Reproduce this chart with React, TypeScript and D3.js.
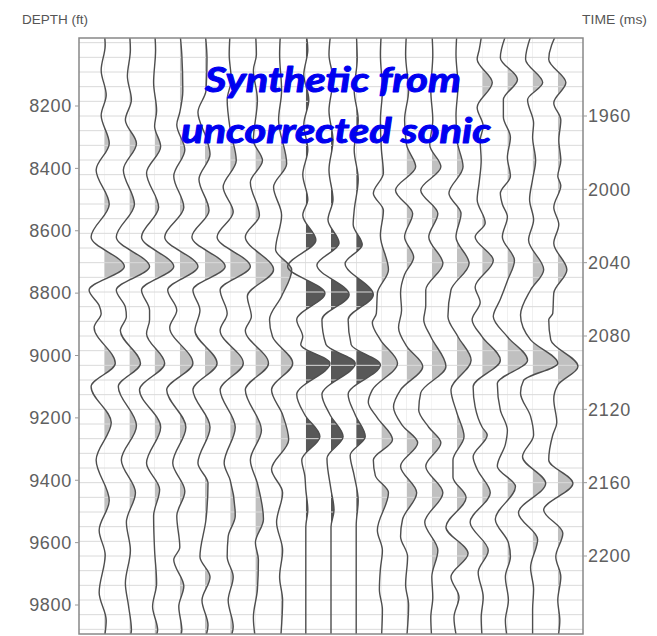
import React from "react";
import * as d3 from "d3";

// synthetic seismogram, wiggle traces with variable-area fill
// each trace: picked turning points [depth (ft), amplitude]

const depthTicks = [8200, 8400, 8600, 8800, 9000, 9200, 9400, 9600, 9800];
const timeTicks = [1960, 2000, 2040, 2080, 2120, 2160, 2200];

const trace00 = [[7960,0],[8005,1],[8085,-3],[8165,2],[8230,-3],[8320,5],[8405,-8],[8515,5],[8620,-13],[8715,20],[8790,-15],[8840,-5],[8865,-3],[8910,-10],[9025,11],[9100,-13],[9215,7],[9335,-8],[9465,5],[9560,-5],[9640,1],[9760,-5],[9850,2],[9910,0]];
const trace01 = [[7960,0],[8020,1],[8105,-2],[8180,2],[8245,-4],[8320,7],[8405,-6],[8515,5],[8620,-13],[8715,20],[8790,-13],[8845,-4],[8875,-3],[8920,-9],[9025,11],[9100,-11],[9225,7],[9335,-8],[9440,6],[9535,-3],[9625,1],[9730,-4],[9800,-1],[9880,2],[9910,0]];
const trace02 = [[7960,0],[8020,1],[8125,-1],[8215,2],[8265,0],[8330,6],[8415,-8],[8525,4],[8620,-13],[8715,19],[8790,-13],[8855,-5],[8885,-5],[8930,-8],[9025,10],[9110,-15],[9230,6],[9345,-8],[9430,5],[9515,-1],[9625,0],[9730,2],[9805,-2],[9880,3],[9910,0]];
const trace03 = [[7960,0],[8035,2],[8150,3],[8220,0],[8260,-3],[8340,5],[8425,-6],[8525,4],[8620,-15],[8715,18],[8790,-12],[8855,-3],[8910,-10],[9025,13],[9110,-13],[9230,6],[9345,-7],[9435,5],[9515,-3],[9615,0],[9655,-6],[9740,4],[9805,-1],[9880,2],[9910,0]];
const trace04 = [[7960,0],[8050,2],[8150,1],[8220,-7],[8310,2],[8355,5],[8435,-6],[8535,4],[8620,-13],[8715,20],[8790,-12],[8855,-5],[8920,-10],[9025,12],[9110,-12],[9230,5],[9345,-7],[9410,3],[9525,1],[9645,-5],[9710,5],[9785,-3],[9865,3],[9910,0]];
const trace05 = [[7960,0],[8035,-1],[8115,1],[8180,-3],[8275,0],[8375,6],[8460,-7],[8540,3],[8620,-13],[8715,20],[8790,-10],[8865,-3],[8920,-10],[9025,13],[9110,-10],[9230,5],[9345,-6],[9400,0],[9515,5],[9580,-2],[9645,-3],[9710,3],[9785,-2],[9870,3],[9910,0]];
const trace06 = [[7960,0],[8035,1],[8085,-2],[8180,2],[8310,-2],[8375,7],[8445,-5],[8550,4],[8620,-10],[8725,18],[8810,-8],[8875,-4],[8920,-10],[9025,13],[9110,-10],[9240,6],[9335,-5],[9410,2],[9525,8],[9600,0],[9655,3],[9750,2],[9840,-2],[9910,0]];
const trace07 = [[7960,0],[8035,-1],[8150,1],[8245,-2],[8385,6],[8460,-7],[8550,1],[8660,-5],[8725,11],[8810,1],[8885,-11],[8940,-8],[9025,12],[9110,-9],[9190,2],[9270,8],[9365,-9],[9440,2],[9535,-4],[9625,2],[9710,-1],[9785,2],[9910,0]];
const trace08 = [[7960,0],[8020,2],[8100,-2],[8180,3],[8260,-2],[8340,2],[8420,-3],[8500,2],[8550,-3],[8630,10],[8715,-18],[8800,19],[8885,-9],[8940,-3],[8965,-5],[9025,24],[9125,-9],[9190,-1],[9260,14],[9335,-4],[9385,-1],[9430,0],[9495,2],[9550,0],[9910,0]];
const trace09 = [[7960,0],[8035,-2],[8115,2],[8215,-2],[8310,2],[8405,-2],[8500,2],[8565,-3],[8640,8],[8710,-14],[8805,18],[8885,-9],[8965,-5],[9025,24],[9125,-9],[9190,-1],[9260,12],[9330,-4],[9430,0],[9495,3],[9550,0],[9910,0]];
const trace10 = [[7960,0],[8050,1],[8150,-2],[8245,2],[8340,-2],[8435,2],[8535,-2],[8580,-3],[8645,6],[8705,-11],[8805,17],[8885,-8],[8965,-5],[9030,24],[9125,-8],[9190,-1],[9260,9],[9320,-6],[9385,-2],[9465,2],[9545,0],[9910,0]];
const trace11 = [[7960,0],[8035,-1],[8150,1],[8245,-1],[8340,0],[8415,2],[8480,-8],[8535,2],[8615,-1],[8725,7],[8800,-4],[8865,-5],[8895,-9],[8950,-1],[9025,16],[9110,-9],[9150,-13],[9200,-4],[9270,11],[9335,-8],[9385,-6],[9440,7],[9560,-4],[9625,1],[9685,-1],[9750,-2],[9815,1],[9910,0]];
const trace12 = [[7960,0],[8035,-1],[8150,2],[8245,-2],[8325,0],[8395,9],[8470,-11],[8545,6],[8620,-2],[8685,7],[8740,-2],[8800,-6],[8855,-5],[8910,-8],[8970,0],[9035,16],[9110,-6],[9165,-13],[9225,-4],[9280,11],[9355,-6],[9440,10],[9525,-4],[9580,-6],[9645,1],[9735,-1],[9800,2],[9910,0]];
const trace13 = [[7960,0],[8035,1],[8150,-1],[8245,1],[8325,-2],[8395,9],[8470,-11],[8545,6],[8620,-3],[8705,11],[8790,-6],[8840,-6],[8885,-8],[8940,-1],[9035,14],[9120,-11],[9175,-13],[9230,-3],[9280,9],[9355,-6],[9440,11],[9535,-7],[9625,6],[9710,0],[9775,1],[9840,-1],[9910,0]];
const trace14 = [[7960,0],[8035,-1],[8135,1],[8230,-1],[8310,0],[8395,6],[8480,-8],[8545,4],[8620,-1],[8705,12],[8790,-6],[8875,-9],[8940,1],[9015,14],[9110,-6],[9185,0],[9260,7],[9335,-4],[9390,-4],[9455,9],[9550,-11],[9635,11],[9710,-6],[9775,2],[9840,-3],[9910,0]];
const trace15 = [[7960,0],[8020,-3],[8050,-5],[8125,10],[8205,-5],[8265,1],[8310,-2],[8375,-1],[8445,-3],[8500,-5],[8575,3],[8620,-7],[8695,11],[8780,-7],[8830,-2],[8885,-10],[8940,0],[9015,18],[9100,-9],[9165,-7],[9230,0],[9255,5],[9325,-9],[9365,-5],[9440,8],[9535,-12],[9625,6],[9695,-4],[9775,1],[9840,-1],[9910,0]];
const trace16 = [[7960,0],[8045,-7],[8115,10],[8180,-4],[8235,-4],[8300,3],[8365,0],[8425,3],[8480,-7],[8515,-5],[8555,0],[8620,-5],[8695,7],[8760,0],[8820,-7],[8875,-14],[8940,0],[9015,20],[9090,-10],[9175,-7],[9240,0],[9285,-2],[9355,-10],[9420,8],[9525,-12],[9600,1],[9645,3],[9710,-2],[9785,1],[9850,-2],[9910,0]];
const trace17 = [[7960,0],[8050,-7],[8125,10],[8180,-5],[8255,1],[8300,0],[8375,3],[8435,0],[8500,-3],[8565,1],[8630,-4],[8725,11],[8790,-2],[8870,-12],[8950,-2],[9025,25],[9080,-9],[9120,-12],[9195,-2],[9255,1],[9325,-10],[9410,13],[9505,-14],[9590,5],[9680,-2],[9750,1],[9815,0],[9910,0]];
const trace18 = [[7960,0],[8050,-9],[8125,8],[8190,-4],[8245,3],[8310,1],[8375,3],[8425,0],[8455,3],[8525,-4],[8580,1],[8640,-4],[8725,9],[8800,-4],[8865,-5],[8885,-9],[8950,-7],[9035,20],[9095,0],[9140,-4],[9215,-1],[9255,-5],[9335,-9],[9410,15],[9495,-14],[9570,5],[9645,-2],[9710,3],[9785,0],[9850,2],[9910,0]];

const traces = [trace00, trace01, trace02, trace03, trace04, trace05, trace06, trace07, trace08, trace09,
  trace10, trace11, trace12, trace13, trace14, trace15, trace16, trace17, trace18];
const darkTraces = [8, 9, 10];

const W = 657;
const H = 636;
const frame = { left: 79, right: 583, top: 38, bottom: 634 };

const y = d3.scaleLinear().domain([8200, 9800]).range([106, 605]);
const yTime = d3.scaleLinear().domain([1960, 2200]).range([116, 556]);
const x = d3.scalePoint<number>()
  .domain(d3.range(traces.length))
  .range([frame.left, frame.right])
  .padding(1);
const amp = d3.scaleLinear().domain([0, 25]).range([0, x.step()]);

// grid every 8 ms
const gridTimes = d3.range(1920, 2248, 8);

const App = () => {
  const paths = traces.map((tr, i) => {
    const base = x(i) as number;
    const line = d3.line<number[]>()
      .curve(d3.curveMonotoneY)
      .x(d => base + amp(d[1]))
      .y(d => y(d[0]));
    const area = d3.area<number[]>()
      .curve(d3.curveMonotoneY)
      .y(d => y(d[0]))
      .x0(base)
      .x1(d => base + amp(d[1]));
    return { base, line: line(tr) || "", area: area(tr) || "" };
  });

  return (
    <svg width={W} height={H} style={{ position: "absolute", left: 0, top: 0, background: "#fff" }}>
      <defs>
        <clipPath id="frameClip">
          <rect x={frame.left} y={frame.top} width={frame.right - frame.left} height={frame.bottom - frame.top} />
        </clipPath>
        {paths.map((p, i) => (
          <clipPath id={`pos${i}`} key={i}>
            <rect x={p.base} y={frame.top} width={x.step() * 1.2} height={frame.bottom - frame.top} />
          </clipPath>
        ))}
      </defs>

      <g clipPath="url(#frameClip)">
        {paths.map((p, i) => (
          <path key={`f${i}`} d={p.area} clipPath={`url(#pos${i})`}
            fill={darkTraces.includes(i) ? "#585858" : "#c0c0c0"} stroke="none" />
        ))}
        {gridTimes.map(t => (
          <line key={t} x1={frame.left} x2={frame.right} y1={yTime(t)} y2={yTime(t)}
            stroke="#dadada" strokeWidth={1} />
        ))}
        {paths.map((p, i) => (
          <path key={`l${i}`} d={p.line} fill="none" stroke="#4e4e4e" strokeWidth={1.4} />
        ))}
      </g>

      <rect x={frame.left} y={frame.top} width={frame.right - frame.left} height={frame.bottom - frame.top}
        fill="none" stroke="#888" strokeWidth={1.5} />

      {/* depth axis */}
      <text x={22} y={24} fontFamily="Liberation Sans, Arial, sans-serif" fontSize={12.5} fill="#555"
        textLength={66} lengthAdjust="spacingAndGlyphs">DEPTH (ft)</text>
      {depthTicks.map(d => (
        <g key={d}>
          <line x1={frame.left - 4} x2={frame.left} y1={y(d)} y2={y(d)} stroke="#999" />
          <text x={72} y={y(d)} dy="0.35em" textAnchor="end" fontFamily="Liberation Sans, Arial, sans-serif"
            fontSize={18} letterSpacing={0.7} fill="#606060">{d}</text>
        </g>
      ))}

      {/* time axis */}
      <text x={582} y={24} fontFamily="Liberation Sans, Arial, sans-serif" fontSize={12.5} fill="#555"
        textLength={65} lengthAdjust="spacingAndGlyphs">TIME (ms)</text>
      {timeTicks.map(t => (
        <g key={t}>
          <line x1={frame.right} x2={frame.right + 4} y1={yTime(t)} y2={yTime(t)} stroke="#999" />
          <text x={588} y={yTime(t)} dy="0.35em" fontFamily="Liberation Sans, Arial, sans-serif"
            fontSize={18} letterSpacing={0.7} fill="#606060">{t}</text>
        </g>
      ))}

      {/* title */}
      <g fontFamily="Lato, 'Open Sans', sans-serif" fontWeight="bold" fontStyle="italic" fontSize={34}
        fill="#0000f0" stroke="#0000f0" strokeWidth={1} strokeLinejoin="round">
        <text x={205} y={92} textLength={256} lengthAdjust="spacingAndGlyphs">Synthetic from</text>
        <text x={181} y={143} textLength={310} lengthAdjust="spacingAndGlyphs">uncorrected sonic</text>
      </g>
    </svg>
  );
};

export default App;
